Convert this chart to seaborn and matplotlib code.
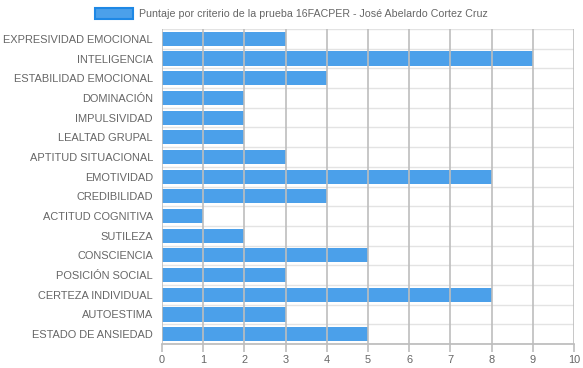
import matplotlib
matplotlib.use("Agg")
import matplotlib.pyplot as plt
import seaborn as sns
import pandas as pd
from matplotlib.patches import Patch

categories = ["EXPRESIVIDAD EMOCIONAL", "INTELIGENCIA", "ESTABILIDAD EMOCIONAL",
              "DOMINACIÓN", "IMPULSIVIDAD", "LEALTAD GRUPAL", "APTITUD SITUACIONAL",
              "EMOTIVIDAD", "CREDIBILIDAD", "ACTITUD COGNITIVA", "SUTILEZA",
              "CONSCIENCIA", "POSICIÓN SOCIAL", "CERTEZA INDIVIDUAL", "AUTOESTIMA",
              "ESTADO DE ANSIEDAD"]
values = [3, 9, 4, 2, 2, 2, 3, 8, 4, 1, 2, 5, 3, 8, 3, 5]
series_label = "Puntaje por criterio de la prueba 16FACPER - José Abelardo Cortez Cruz"
x_ticks = list(range(0, 11))

df = pd.DataFrame({"criterio": categories, "puntaje": values})

sns.set_theme(style="white")
plt.rcParams['font.family'] = ['Liberation Sans', 'DejaVu Sans']

fig = plt.figure(figsize=(5.83, 3.68), dpi=100)
ax = fig.add_axes([162/583, 1-344/368, (574-162)/583, (344-29)/368])

bar_color = (30/255, 136/255, 229/255, 0.8)
sns.barplot(data=df, x="puntaje", y="criterio", orient="h", ax=ax,
            color="#1E88E5", width=0.72, saturation=1, zorder=3)
for p in ax.patches:
    p.set_facecolor(bar_color)
    p.set_edgecolor("none")

ax.set_xlim(0, 10)
ax.set_ylim(len(categories) - 0.5, -0.5)
ax.set_xticks(x_ticks)
ax.set_xlabel("")
ax.set_ylabel("")

# vertical grid lines over bars
for t in x_ticks:
    ax.axvline(t, color="#bdbdbd", lw=1.2, zorder=4)
# horizontal grid lines between categories
for i in range(len(categories) + 1):
    ax.axhline(i - 0.5, color="#e3e3e3", lw=1, zorder=1)

for s in ax.spines.values():
    s.set_visible(False)
ax.spines["bottom"].set_visible(True)
ax.spines["bottom"].set_color("#bdbdbd")
ax.spines["bottom"].set_zorder(5)

ax.tick_params(axis="x", colors="#666666", labelsize=7.9, length=6, width=1.2,
               direction="out", bottom=True, color="#bdbdbd", pad=2)
ax.tick_params(axis="y", colors="#666666", labelsize=7.9, length=0, pad=6.5)
for lbl in ax.get_xticklabels() + ax.get_yticklabels():
    lbl.set_color("#666666")

handle = Patch(facecolor=bar_color, edgecolor="#1E88E5", linewidth=1.5)
fig.legend([handle], [series_label], loc="upper center", bbox_to_anchor=(0.5, 1.0),
           frameon=False, fontsize=7.65, handlelength=3.5, handleheight=1.1,
           handletextpad=0.6, labelcolor="#666666", borderaxespad=0.4)

fig.savefig("out.png", dpi=100, facecolor="white")
